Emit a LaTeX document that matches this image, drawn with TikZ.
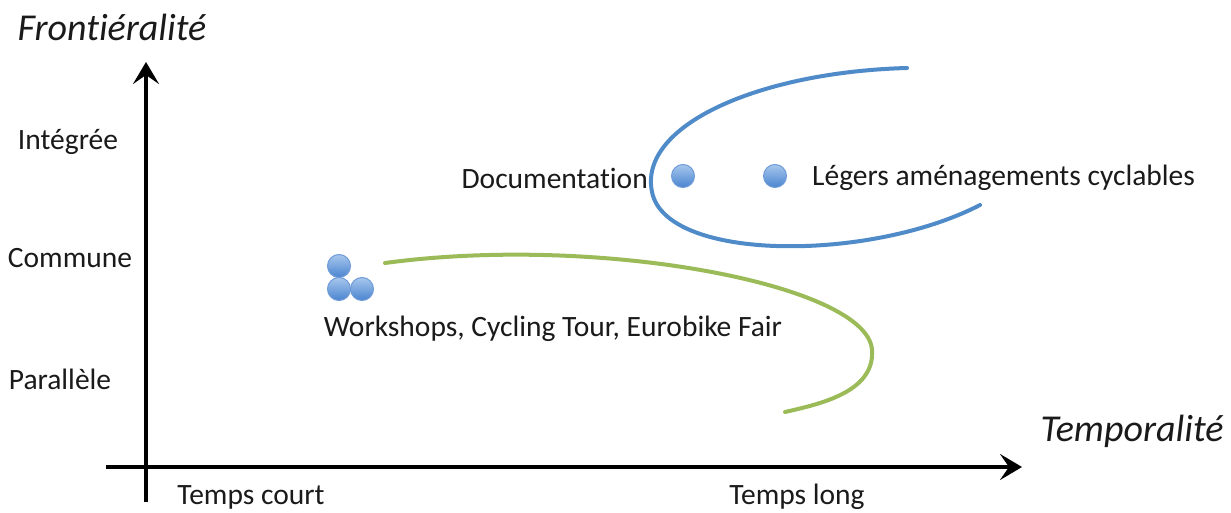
\documentclass[tikz,border=0pt]{standalone}
\usepackage{fontspec}
\setmainfont{Carlito}[Ligatures=NoCommon]
\usetikzlibrary{arrows.meta,positioning}
\definecolor{DotTop}{HTML}{A7C7EE}
\definecolor{DotBot}{HTML}{4A84CF}
\definecolor{DotRim}{HTML}{6F9BD8}
\definecolor{CurveBlue}{HTML}{4F8AC9}
\definecolor{CurveGreen}{HTML}{9BBB59}
\definecolor{TextDark}{HTML}{1A1A1A}
\tikzset{
axis/.style={line width=4pt, draw=black, -{Stealth[length=22pt,width=26pt,inset=9pt]}},
lvl/.style={font=\fontsize{29.5}{34}\selectfont, text=TextDark, inner sep=0pt},
axlabel/.style={font=\fontsize{38}{44}\selectfont\itshape, text=TextDark, inner sep=0pt},
dot/.style={circle, minimum size=23pt, inner sep=0pt, draw=DotRim, line width=1pt,
  top color=DotTop, bottom color=DotBot},
curve/.style={line width=4pt, line cap=round}
}
\begin{document}
\begin{tikzpicture}[x=1pt,y=-1pt]
\fill[white] (0,0) rectangle (1231,513);
\useasboundingbox (0,0) rectangle (1231,513);
% axes
\coordinate (ybot) at (146,502);
\coordinate (ytop) at (146,62);
\coordinate (xleft) at (106,467);
\coordinate (xright) at (1022,467);
\draw[axis] (ybot) -- (ytop);
\draw[axis] (xleft) -- (xright);
\node[axlabel] (front) at (112,27) {Frontiéralité};
\node[axlabel] (temp) at (1132,431) {Temporalité};
% levels
\node[lvl] (integ) at (68,142) {Intégrée};
\node[lvl] (comm) at (70,258) {Commune};
\node[lvl] (para) at (60,379) {Parallèle};
\node[lvl] (court) at (251,497) {Temps court};
\node[lvl] (long) at (797,497) {Temps long};
% curves
\draw[curve, draw=CurveBlue] (907,68) .. controls (760,72) and (638,125) .. (652,192)
  .. controls (666,262) and (870,262) .. (980,205);
\draw[curve, draw=CurveGreen] (385,263) .. controls (600,234) and (868,285) .. (872,350)
  .. controls (875,392) and (820,404) .. (785,412);
% actions
\node[dot] (w1) at (339,266) {};
\node[dot] (w2) at (339,289) {};
\node[dot] (w3) at (362,289) {};
\node[dot] (doc) at (683,176) {};
\node[dot] (amen) at (775,176) {};
\node[lvl, anchor=east] (doclbl) at (648,178) {Documentation};
\node[lvl, anchor=west] (amenlbl) at (812,178) {Légers aménagements cyclables};
\node[lvl] (wlbl) at (553,329) {Workshops, Cycling Tour, Eurobike Fair};
\end{tikzpicture}
\end{document}
